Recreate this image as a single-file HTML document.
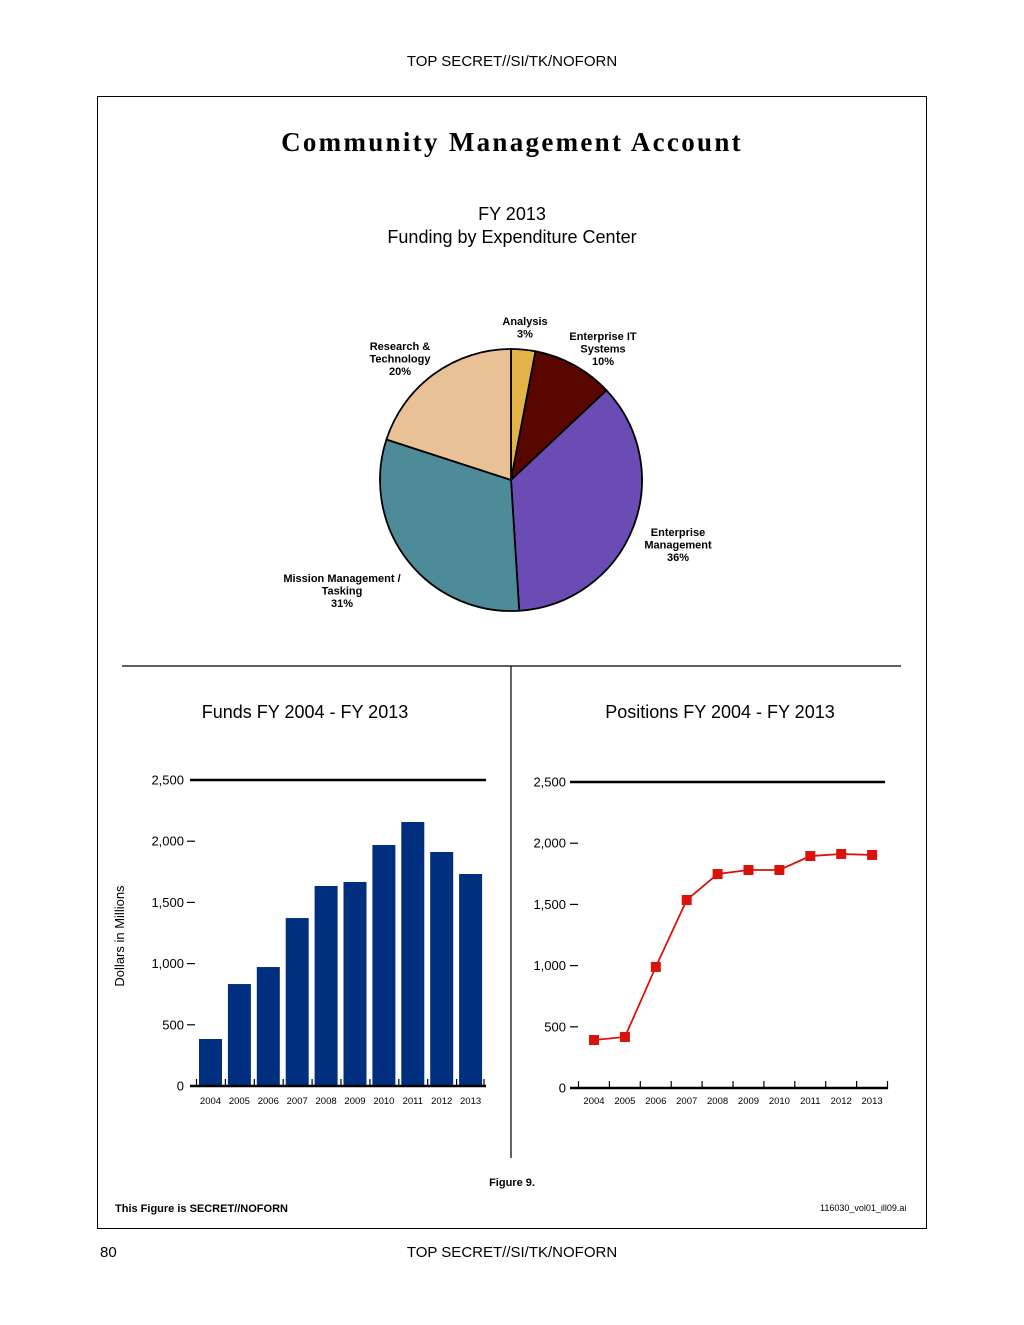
<!DOCTYPE html>
<html><head><meta charset="utf-8"><style>
body{margin:0;background:#fff;width:1024px;height:1325px;position:relative;font-family:"Liberation Sans",sans-serif;color:#000;overflow:hidden}
.a{position:absolute}
</style></head><body>
<div class="a" style="left:0;width:1024px;top:53px;text-align:center;font-size:15px">TOP SECRET//SI/TK/NOFORN</div>
<div class="a" style="left:97px;top:96px;width:828px;height:1131px;border:1.5px solid #000"></div>
<div class="a" style="left:0;width:1024px;top:127px;text-align:center;font-family:'Liberation Serif',serif;font-weight:bold;font-size:27px;letter-spacing:2.3px">Community Management Account</div>
<div class="a" style="left:0;width:1024px;top:203px;text-align:center;font-size:18px;line-height:23px">FY 2013<br>Funding by Expenditure Center</div>
<div class="a" style="left:150px;width:310px;top:702px;text-align:center;font-size:18px">Funds FY 2004 - FY 2013</div>
<div class="a" style="left:560px;width:320px;top:702px;text-align:center;font-size:18px">Positions FY 2004 - FY 2013</div>
<div class="a" style="left:0;width:1024px;top:1177px;text-align:center;font-size:11px;font-weight:bold">Figure 9.</div>
<div class="a" style="left:115px;top:1203px;font-size:11px;font-weight:bold">This Figure is SECRET//NOFORN</div>
<div class="a" style="left:820px;top:1203px;font-size:9px">116030_vol01_ill09.ai</div>
<div class="a" style="left:100px;top:1244px;font-size:15px">80</div>
<div class="a" style="left:0;width:1024px;top:1244px;text-align:center;font-size:15px">TOP SECRET//SI/TK/NOFORN</div>
<svg class="a" style="left:0;top:0" width="1024" height="1325" id="svg">
<line x1="122" y1="666" x2="901" y2="666" stroke="#000" stroke-width="1.2"/>
<line x1="511" y1="666" x2="511" y2="1158" stroke="#000" stroke-width="1.2"/>
<g id="pie"></g><g id="bar"></g><g id="line"></g>
</svg>
<script>
const pieLabels=["Analysis","Enterprise IT Systems","Enterprise Management","Mission Management / Tasking","Research & Technology"];
const pieValues=[3,10,36,31,20];
const pieColors=["#E2B447","#5A0600","#6B4CB4","#4E8B99","#E8C196"];
const barYears=["2004","2005","2006","2007","2008","2009","2010","2011","2012","2013"];
const barValues=[384,833,972,1372,1634,1667,1969,2157,1912,1732];
const lineValues=[392,417,989,1536,1748,1781,1781,1895,1912,1904];
const yTicks=[0,500,1000,1500,2000,2500];
const yTickLabels=["0","500","1,000","1,500","2,000","2,500"];
const NS="http://www.w3.org/2000/svg";
function mk(p,t,a,txt){const e=document.createElementNS(NS,t);for(const k in a)e.setAttribute(k,a[k]);if(txt!=null)e.textContent=txt;p.appendChild(e);return e;}
// pie
const pie=document.getElementById('pie');
const cx=511,cy=480,r=131;
const tot=pieValues.reduce((a,b)=>a+b,0);
let ang=0;
const labelPos=[[525,325],[603,340],[678,536],[342,582],[400,350]];
pieValues.forEach((v,i)=>{
 const a0=ang/tot*2*Math.PI,a1=(ang+v)/tot*2*Math.PI;ang+=v;
 const x0=cx+r*Math.sin(a0),y0=cy-r*Math.cos(a0),x1=cx+r*Math.sin(a1),y1=cy-r*Math.cos(a1);
 const s=mk(pie,'path',{d:`M${cx},${cy}L${x0},${y0}A${r},${r} 0 ${a1-a0>Math.PI?1:0} 1 ${x1},${y1}Z`,fill:pieColors[i],stroke:'#000','stroke-width':1.8});
 
 
 const lines=(pieLabels[i]==="Enterprise IT Systems"?["Enterprise IT","Systems"]:pieLabels[i]==="Enterprise Management"?["Enterprise","Management"]:pieLabels[i]==="Mission Management / Tasking"?["Mission Management /","Tasking"]:pieLabels[i]==="Research & Technology"?["Research &","Technology"]:[pieLabels[i]]).concat([v+"%"]);
 const t=mk(pie,'text',{x:labelPos[i][0],y:labelPos[i][1],'text-anchor':'middle','font-size':11,'font-weight':'bold'});
 
 
 lines.forEach((l,j)=>mk(t,'tspan',{x:labelPos[i][0],dy:j?12.5:0},l));
});
// bar chart
const bar=document.getElementById('bar');
const by=v=>1086-v*306/2500;
mk(bar,'line',{x1:190,y1:by(2500),x2:486,y2:by(2500),stroke:'#000','stroke-width':2.5});
yTicks.forEach((t,i)=>{
 if(i>0&&i<5)mk(bar,'line',{x1:187,x2:195,y1:by(t),y2:by(t),stroke:'#000','stroke-width':1.2});
 const e=mk(bar,'text',{x:184,y:by(t)+4.5,'text-anchor':'end','font-size':13},yTickLabels[i]);
 
 
});
barYears.forEach((y,i)=>{
 const x=199+i*28.9;
 const b=mk(bar,'rect',{x:x,y:by(barValues[i]),width:23,height:by(0)-by(barValues[i]),fill:'#002F7F'});
 
 
 mk(bar,'text',{x:x+11.5,y:1104,'text-anchor':'middle','font-size':9.5,'font-weight':500},y);
 mk(bar,'line',{x1:x-2.5,x2:x-2.5,y1:1079,y2:1087,stroke:'#000','stroke-width':1.2});
});
mk(bar,'line',{x1:484,x2:484,y1:1079,y2:1087,stroke:'#000','stroke-width':1.2});
mk(bar,'line',{x1:190,y1:1086,x2:486,y2:1086,stroke:'#000','stroke-width':2.5});
const yt=mk(bar,'text',{x:124,y:936,'text-anchor':'middle','font-size':13,transform:'rotate(-90 124 936)'},'Dollars in Millions');


// line chart
const ln=document.getElementById('line');
const ly=v=>1088-v*306/2500;
const lx=i=>594+i*30.9;
mk(ln,'line',{x1:570,y1:ly(2500),x2:885,y2:ly(2500),stroke:'#000','stroke-width':2.5});
yTicks.forEach((t,i)=>{
 if(i>0&&i<5)mk(ln,'line',{x1:570,x2:578,y1:ly(t),y2:ly(t),stroke:'#000','stroke-width':1.2});
 mk(ln,'text',{x:566,y:ly(t)+4.5,'text-anchor':'end','font-size':13},yTickLabels[i]);
});
mk(ln,'line',{x1:570,y1:1088,x2:888,y2:1088,stroke:'#000','stroke-width':2.5});
for(let i=0;i<=10;i++)mk(ln,'line',{x1:lx(i)-15.5,x2:lx(i)-15.5,y1:1081,y2:1089,stroke:'#000','stroke-width':1.2});
mk(ln,'polyline',{points:lineValues.map((v,i)=>lx(i)+','+ly(v)).join(' '),fill:'none',stroke:'#D9120A','stroke-width':1.8});
lineValues.forEach((v,i)=>{
 const p=mk(ln,'rect',{x:lx(i)-5,y:ly(v)-5,width:10,height:10,fill:'#D9120A'});
 
 
 mk(ln,'text',{x:lx(i),y:1104,'text-anchor':'middle','font-size':9.5,'font-weight':500},barYears[i]);
});
</script>
</body></html>
